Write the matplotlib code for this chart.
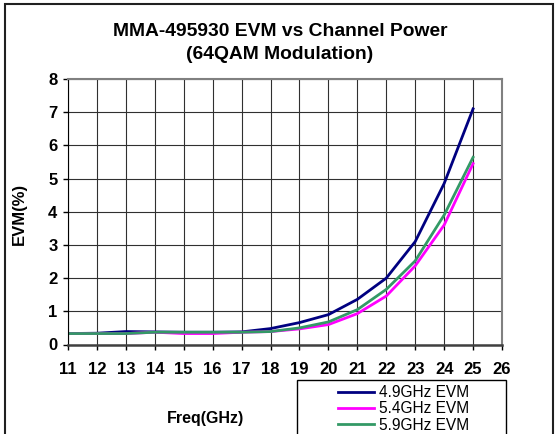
import matplotlib.pyplot as plt
from matplotlib.patches import Rectangle

plt.rcParams['font.family'] = ['Liberation Sans', 'DejaVu Sans']

freq = [11, 12, 13, 14, 15, 16, 17, 18, 19, 20, 21, 22, 23, 24, 25]
evm_49 = [0.33, 0.34, 0.39, 0.38, 0.37, 0.37, 0.38, 0.48, 0.66, 0.90, 1.36, 2.00, 3.10, 4.85, 7.10]
evm_54 = [0.33, 0.33, 0.33, 0.37, 0.33, 0.33, 0.37, 0.39, 0.47, 0.60, 0.93, 1.46, 2.37, 3.60, 5.45]
evm_59 = [0.33, 0.33, 0.33, 0.37, 0.37, 0.37, 0.37, 0.39, 0.50, 0.68, 1.05, 1.66, 2.52, 3.90, 5.64]
x_ticks = list(range(11, 27))
y_ticks = list(range(0, 9))

fig = plt.figure(figsize=(5.55, 4.34), dpi=100)
W, H = 555, 434
ax = fig.add_axes([68 / W, 1 - 344.5 / H, 434 / W, 265.5 / H])

ax.plot(freq, evm_49, color='#000080', lw=2, label='4.9GHz EVM')
ax.plot(freq, evm_54, color='#FF00FF', lw=2, label='5.4GHz EVM')
ax.plot(freq, evm_59, color='#339966', lw=2, label='5.9GHz EVM')

ax.set_xlim(11, 26)
ax.set_ylim(0, 8)
ax.set_xticks(x_ticks)
ax.set_yticks(y_ticks)
ax.grid(True, color='#303030', lw=0.8)
ax.set_axisbelow(True)
ax.tick_params(direction='out', length=3.6, width=1, labelsize=12)
ax.tick_params(axis='x', pad=9)
ax.tick_params(axis='y', pad=4)
for lbl in ax.get_xticklabels() + ax.get_yticklabels():
    lbl.set_fontweight('bold')

ax.spines['top'].set_color('#808080')
ax.spines['right'].set_color('#808080')
ax.spines['top'].set_linewidth(1.5)
ax.spines['right'].set_linewidth(1.5)
ax.spines['bottom'].set_color('#404040')
ax.spines['bottom'].set_linewidth(1.8)
ax.spines['left'].set_color('black')

ax.set_ylabel('EVM(%)', fontsize=12, fontweight='bold')
ax.yaxis.set_label_coords(-0.0945, 0.49)
ax.set_xlabel('Freq(GHz)', fontsize=11.5, fontweight='bold', va='center')
ax.xaxis.set_label_coords(0.316, -0.279)

fig.text(280 / W, 1 - 43 / H, 'MMA-495930 EVM vs Channel Power\n(64QAM Modulation)',
         ha='center', va='center', fontsize=13.9, fontweight='bold', linespacing=1.4)

# outer chart border and legend box (bottom runs off the image)
fig.patches.append(Rectangle((5 / W, -0.1), 548 / W, 1.1 - 4 / H, transform=fig.transFigure,
                             fill=False, ec='#202020', lw=1.5))
fig.patches.append(Rectangle((297 / W, -0.1), 209 / W, 0.1 + 1 - 380 / H, transform=fig.transFigure,
                             fill=False, ec='black', lw=1))

leg = ax.legend(loc='upper left', bbox_to_anchor=(335 / W, 1 - 382 / H), bbox_transform=fig.transFigure,
                frameon=False, fontsize=11.2, handlelength=2.3, handletextpad=0.3,
                labelspacing=0.08, borderaxespad=0, borderpad=0.2)

fig.savefig('out.png', dpi=100)
